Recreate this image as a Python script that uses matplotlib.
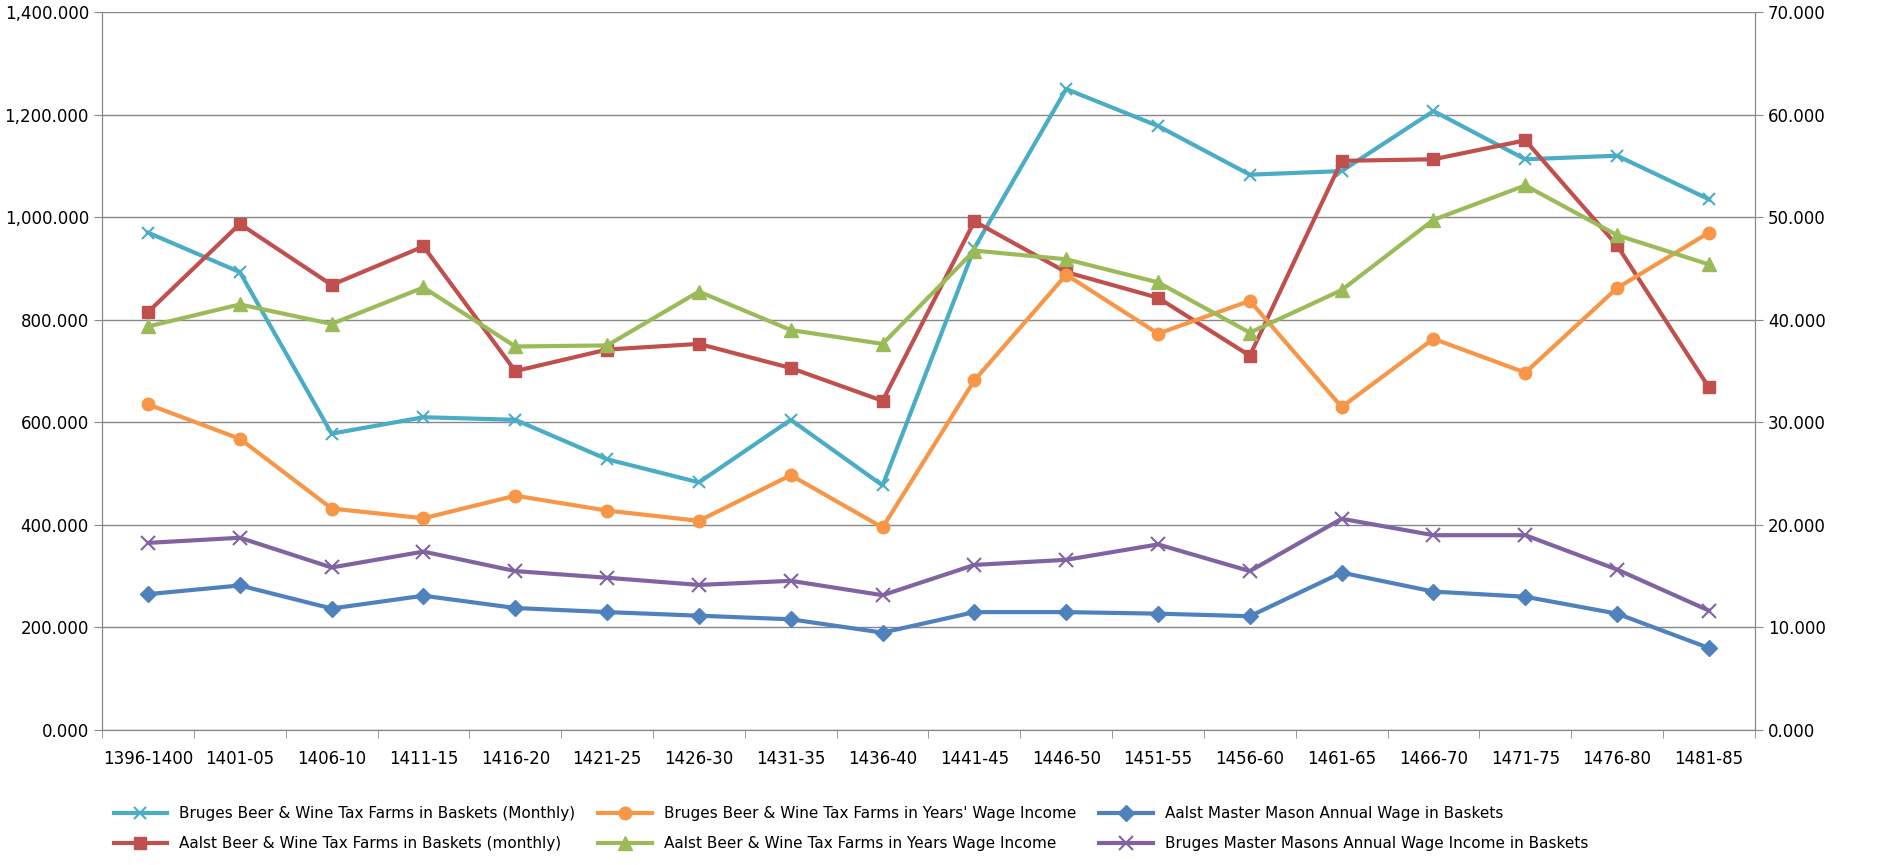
import matplotlib.pyplot as plt
import numpy as np
from matplotlib.ticker import FuncFormatter

periods = ["1396-1400", "1401-05", "1406-10", "1411-15", "1416-20", "1421-25", "1426-30",
           "1431-35", "1436-40", "1441-45", "1446-50", "1451-55", "1456-60", "1461-65",
           "1466-70", "1471-75", "1476-80", "1481-85"]

# left axis (baskets)
bruges_monthly = [970, 893, 578, 610, 605, 528, 483, 605, 477, 940, 1250, 1178, 1083, 1090, 1207, 1113, 1120, 1035]
aalst_mason = [265, 282, 237, 262, 238, 230, 223, 216, 190, 230, 230, 227, 222, 307, 270, 260, 227, 160]
aalst_monthly = [815, 987, 868, 943, 700, 742, 753, 706, 642, 992, 893, 843, 730, 1110, 1113, 1150, 945, 668]
bruges_masons = [365, 375, 317, 348, 310, 297, 283, 291, 263, 322, 332, 362, 310, 412, 380, 380, 313, 233]
# right axis (years' wage income)
bruges_years = [31.75, 28.4, 21.6, 20.65, 22.85, 21.4, 20.4, 24.85, 19.75, 34.1, 44.4, 38.65, 41.85, 31.5, 38.15, 34.85, 43.1, 48.5]
aalst_years = [39.35, 41.5, 39.6, 43.15, 37.4, 37.5, 42.75, 39.0, 37.65, 46.75, 45.9, 43.65, 38.75, 42.9, 49.75, 53.1, 48.25, 45.4]

fig = plt.figure(figsize=(18.91, 8.65), dpi=100)
ax1 = fig.add_axes([0.054, 0.156, 0.874, 0.83])
ax2 = ax1.twinx()
x = np.arange(len(periods))

lw = 3
l1, = ax1.plot(x, bruges_monthly, color='#4BACC6', lw=lw, marker='x', ms=9, mew=1.5,
               label='Bruges Beer & Wine Tax Farms in Baskets (Monthly)')
l4, = ax1.plot(x, aalst_monthly, color='#C0504D', lw=lw, marker='s', ms=9,
               label='Aalst Beer & Wine Tax Farms in Baskets (monthly)')
l3, = ax1.plot(x, aalst_mason, color='#4F81BD', lw=lw, marker='D', ms=8,
               label='Aalst Master Mason Annual Wage in Baskets')
l6, = ax1.plot(x, bruges_masons, color='#8064A2', lw=lw, marker='x', ms=10, mew=1.5,
               label='Bruges Master Masons Annual Wage Income in Baskets')
l2, = ax2.plot(x, bruges_years, color='#F79646', lw=lw, marker='o', ms=9,
               label="Bruges Beer & Wine Tax Farms in Years' Wage Income")
l5, = ax2.plot(x, aalst_years, color='#9BBB59', lw=lw, marker='^', ms=10,
               label='Aalst Beer & Wine Tax Farms in Years Wage Income')

ax1.set_ylim(0, 1400)
ax2.set_ylim(0, 70)
ax1.set_yticks(np.arange(0, 1401, 200))
ax2.set_yticks(np.arange(0, 71, 10))
ax1.yaxis.set_major_formatter(FuncFormatter(lambda v, p: '{:,.3f}'.format(v)))
ax2.yaxis.set_major_formatter(FuncFormatter(lambda v, p: '{:.3f}'.format(v)))
ax1.set_xlim(-0.5, len(periods) - 0.5)
ax1.set_xticks(x)
ax1.set_xticklabels(periods)
ax1.set_xticks(np.arange(-0.5, len(periods), 1), minor=True)
ax1.tick_params(axis='x', which='major', length=0, labelsize=12, pad=14)
ax1.tick_params(axis='x', which='minor', length=6, color='#888888')
ax1.tick_params(axis='y', labelsize=12, length=6, color='#888888')
ax2.tick_params(axis='y', labelsize=12, length=6, color='#888888')
ax1.grid(axis='y', color='#888888', lw=1)
for a in (ax1, ax2):
    a.spines['top'].set_visible(False)
    for s in ('left', 'right', 'bottom'):
        a.spines[s].set_color('#888888')

# column-major fill, so pass in order that reads row-wise like the reference
fig.legend(handles=[l1, l4, l2, l5, l3, l6], loc='lower center', ncol=3,
           bbox_to_anchor=(0.45, 0.0), frameon=False, fontsize=11,
           handlelength=3.5, columnspacing=1.5, labelspacing=1.0)
fig.savefig('out.png')
